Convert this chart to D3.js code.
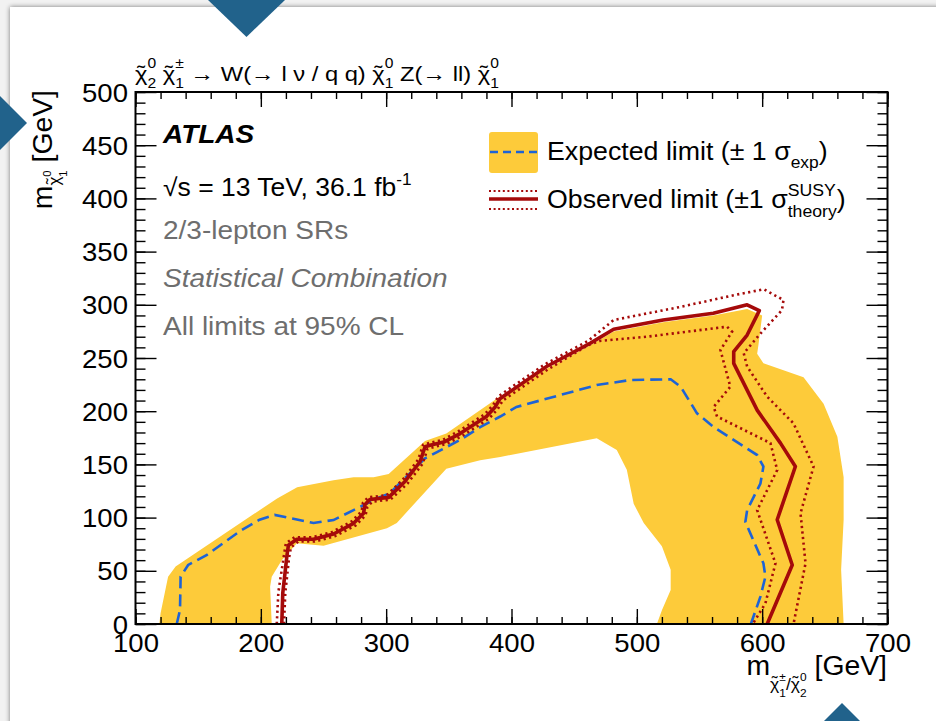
<!DOCTYPE html>
<html><head><meta charset="utf-8">
<script src="https://cdn.jsdelivr.net/npm/d3@7"></script>
<style>
html,body{margin:0;padding:0;background:#f2f2f2;}
svg{display:block;font-family:"Liberation Sans",Arial,Helvetica,sans-serif;}
</style></head><body>
<svg id="c" width="936" height="721"></svg>
<script>
// ---------------- data (GeV) ----------------
const xTicks = [100,200,300,400,500,600,700];
const yTicks = [0,50,100,150,200,250,300,350,400,450,500];

// +-1 sigma expected band: upper (outer) contour then lower (inner) contour
const bandOuter = [[119,0],[120,10],[126,44.5],[132,54],[213,118],[229,128.5],[258,135],[274,138],[290,138],[302,141],[331,172],[348,179],[391,214],[428,240],[463,262],[481.5,275],[521,283.5],[561,290],[588,296],[600,290],[597,262],[596,254],[601,245],[633,232],[649,207],[660,176],[665,138],[665,98],[663,51],[665,0]];
const bandInner = [[516,0],[520,13],[527,32],[527,51],[520,73],[505.5,95],[497.5,113],[492,145],[484,163.5],[468,174.5],[391,157],[375,154],[348,146],[308.5,95],[300.6,90],[250,73.6],[228.7,75.8],[216.7,60],[208.7,44.5],[207.4,35],[208.7,0]];

const expected = [[132.9,0],[135.5,13],[136,44.5],[142,55.5],[157,65],[183,87],[199,98],[211,102.5],[242,95],[258,97.7],[274,107],[292.6,118],[303,123],[331,155.7],[359,173],[375,185],[391,195],[404,204],[468,224.6],[495,229.3],[527,230],[535,223],[548,198],[561,185.4],[596,158.8],[601,148],[598.6,132],[588,107],[586.6,96],[601,57],[602.6,44.5],[598.6,25.7],[591,0]];

const observed = [[216.7,0],[217.5,29],[220.7,63],[222,74],[228.7,79.6],[242,79.6],[258,84.6],[274,94.6],[282,104],[283,112],[287,117],[302,119],[315,134],[327,152.5],[331,166.6],[335,168],[346,171],[359,179],[380,195],[387,204],[391,212],[428,242],[463,264],[481.5,277],[521,285.7],[561,292],[588,300],[597.7,294.5],[588,271.6],[577.3,256],[577.3,245],[596,201],[614.6,170],[626.5,148],[612,98],[624,55.5],[604,0]];

const observedUp = [[212.7,0],[214,30],[218.5,65],[220,76],[227,81.5],[241,81.5],[257,86.5],[272.5,96.5],[280.5,106],[281.5,114],[285.5,119],[300.5,121],[313.5,136],[325.5,154.5],[329.5,168.5],[334,170],[345,173],[357.5,181],[378.5,197],[385.5,206],[389.5,214],[426.5,244],[461,266],[481.5,285.7],[534.7,298],[577.3,309],[601.3,314.6],[617,304.5],[615.8,295],[598.6,273],[585.3,254.4],[588,242],[604,213.6],[625,188.6],[641,148],[630.6,104],[634.6,57],[625,0]];

const observedDown = [[218.5,0],[219.5,29],[222.5,62],[224,72],[230,77.5],[243,77.5],[259,82.5],[275.5,92.5],[283.5,102],[285,110],[289,115],[303.5,117],[317,132],[329,150.5],[333,164.5],[337,166],[347.5,169],[361,177],[382,193],[389,202],[393,210],[430,240],[461,262],[470,266],[508,270],[572,279.4],[576,274.7],[566.7,257.5],[574.6,223],[561.3,204],[564,195],[606.6,170],[612,144.7],[596,107],[610.6,57],[602.6,19.5],[592.5,0]];

// ---------------- layout ----------------
const svg = d3.select("#c");
const L = 135.5, R = 887.5, T = 92, B = 624;
const x = d3.scaleLinear().domain([100,700]).range([L,R]);
const y = d3.scaleLinear().domain([0,500]).range([B,T]);

const YEL = "#fdcb3a", BLUE = "#1d63d6", RED = "#a50a0a";

// card background
const defs = svg.append("defs");
const f = defs.append("filter").attr("id","sh").attr("x","-5%").attr("y","-5%").attr("width","110%").attr("height","110%");
f.append("feGaussianBlur").attr("in","SourceAlpha").attr("stdDeviation",2.5).attr("result","b");
const fm = f.append("feMerge"); fm.append("feMergeNode").attr("in","b"); fm.append("feMergeNode").attr("in","SourceGraphic");
svg.append("rect").attr("x",0).attr("y",0).attr("width",936).attr("height",721).attr("fill","#f2f2f2");
svg.append("rect").attr("x",10).attr("y",7).attr("width",960).attr("height",760).attr("fill","#fff").attr("filter","url(#sh)").attr("opacity",0.5);
svg.append("rect").attr("x",10).attr("y",7).attr("width",960).attr("height",760).attr("fill","#fff");

defs.append("clipPath").attr("id","clip").append("rect").attr("x",L).attr("y",T).attr("width",R-L).attr("height",B-T);
const plot = svg.append("g").attr("clip-path","url(#clip)");

const line = d3.line().x(d=>x(d[0])).y(d=>y(d[1]));
plot.append("path").attr("d", line(bandOuter.concat(bandInner))+"Z").attr("fill",YEL).attr("stroke","none");
plot.append("path").attr("d", line(expected)).attr("fill","none").attr("stroke",BLUE).attr("stroke-width",2.6).attr("stroke-dasharray","12,6");
[observedUp, observedDown].forEach(a=>{
  plot.append("path").attr("d", line(a)).attr("fill","none").attr("stroke",RED).attr("stroke-width",2.6).attr("stroke-dasharray","2.2,3.4");
});
plot.append("path").attr("d", line(observed)).attr("fill","none").attr("stroke",RED).attr("stroke-width",3.6).attr("stroke-linejoin","round");

// ---------------- axes ----------------
const TICKFS = 25.5, TICKSX = 1.08;
const xMinor = d3.range(100,701,20), yMinor = d3.range(0,501,10);
function styleAxis(g){ g.select(".domain").remove(); g.selectAll("line").attr("stroke","#000").attr("stroke-width",1.4); }
svg.append("g").attr("transform",`translate(0,${B})`).call(d3.axisBottom(x).tickValues(xMinor).tickSize(-7).tickFormat("")).call(styleAxis);
svg.append("g").attr("transform",`translate(0,${B})`).call(d3.axisBottom(x).tickValues(xTicks).tickSize(-15).tickFormat(d3.format("d"))).call(styleAxis)
  .selectAll("text").attr("font-size",TICKFS).attr("fill","#000").attr("font-family","Liberation Sans, Arial, sans-serif")
  .attr("dy",null).attr("y",28).attr("transform",`scale(${TICKSX},1)`);
svg.append("g").attr("transform",`translate(0,${T})`).call(d3.axisTop(x).tickValues(xMinor).tickSize(-7).tickFormat("")).call(styleAxis);
svg.append("g").attr("transform",`translate(0,${T})`).call(d3.axisTop(x).tickValues(xTicks).tickSize(-15).tickFormat("")).call(styleAxis);
svg.append("g").attr("transform",`translate(${L},0)`).call(d3.axisLeft(y).tickValues(yMinor).tickSize(-10).tickFormat("")).call(styleAxis);
svg.append("g").attr("transform",`translate(${L},0)`).call(d3.axisLeft(y).tickValues(yTicks).tickSize(-21).tickFormat(d3.format("d"))).call(styleAxis)
  .selectAll("text").attr("font-size",TICKFS).attr("fill","#000").attr("font-family","Liberation Sans, Arial, sans-serif")
  .attr("x",-7).attr("dy",null).attr("y",9).attr("transform",`scale(${TICKSX},1)`);
svg.append("g").attr("transform",`translate(${R},0)`).call(d3.axisRight(y).tickValues(yMinor).tickSize(-10).tickFormat("")).call(styleAxis);
svg.append("g").attr("transform",`translate(${R},0)`).call(d3.axisRight(y).tickValues(yTicks).tickSize(-21).tickFormat("")).call(styleAxis);
svg.append("rect").attr("x",L).attr("y",T).attr("width",R-L).attr("height",B-T).attr("fill","none").attr("stroke","#000").attr("stroke-width",2);

// ---------------- rich text helper ----------------
function grp(parent, px, py, sx, rot){
  return parent.append("g").attr("transform",`translate(${px},${py})${rot?` rotate(${rot})`:""} scale(${sx},1)`);
}
function rich(parent, size, parts, attrs){
  const t = parent.append("text").attr("x",0).attr("y",0).attr("font-size",size);
  if(attrs) Object.entries(attrs).forEach(([k,v])=>t.attr(k,v));
  let cur = 0, prevW = 0, pendingDx = 0;
  parts.forEach(p=>{
    const off = (p.off||0)*size, fs = (p.s||1)*size;
    const ts = t.append("tspan").attr("font-size",fs).attr("dy",off-cur).text(p.t);
    let w0 = ts.node().getComputedTextLength();
    if(p.back){ ts.attr("dx", p.center ? -(prevW+w0)/2 : -prevW); }
    else if(pendingDx>0){ ts.attr("dx",pendingDx); }
    cur = off;
    const w = w0;
    if(p.back){
      pendingDx = p.center ? Math.max(0,(prevW - w)/2) : Math.max(0, prevW - w);
      if(!p.center) prevW = Math.max(prevW, w); // keep stacked width reference
    } else { pendingDx = 0; prevW = w; }
  });
  return t;
}
// chi with a tilde accent centred over it
function chiT(off, s){ return [{t:"\u03C7",off:off,s:s},{t:"\u02DC",off:off-0.06*1,s:s,back:true,center:true}]; }

// title
rich(grp(svg,135,81,1.13), 21, [
  ...chiT(0,1),{t:"2",off:0.32,s:0.66},{t:"0",off:-0.62,s:0.66,back:true},
  {t:" "},...chiT(0,1),{t:"1",off:0.32,s:0.66},{t:"\u00B1",off:-0.62,s:0.66,back:true},
  {t:" \u2192 W(\u2192 l \u03BD / q q) "},...chiT(0,1),{t:"1",off:0.32,s:0.66},{t:"0",off:-0.62,s:0.66,back:true},
  {t:" Z(\u2192 ll) "},...chiT(0,1),{t:"1",off:0.32,s:0.66},{t:"0",off:-0.62,s:0.66,back:true}
]);

// y-axis title
rich(grp(svg,52,90,1.05,-90), 27, [
  {t:"m"},...chiT(0.3,0.6),{t:"1",off:0.55,s:0.4},{t:"0",off:-0.05,s:0.4,back:true},
  {t:" [GeV]",off:0}
], {"text-anchor":"end"});

// x-axis title
rich(grp(svg,887,675,1.05), 27, [
  {t:"m"},...chiT(0.55,0.62),{t:"1",off:0.82,s:0.42},{t:"\u00B1",off:0.22,s:0.42,back:true},
  {t:"/",off:0.55,s:0.62},...chiT(0.55,0.62),{t:"2",off:0.82,s:0.42},{t:"0",off:0.22,s:0.42,back:true},
  {t:" [GeV]",off:0}
], {"text-anchor":"end"});

// ATLAS labels
const TSX = 1.12;
grp(svg,163,143,TSX).append("text").attr("font-size",25).attr("font-weight","bold").attr("font-style","italic").text("ATLAS");
rich(grp(svg,163,196,1.06), 25, [{t:"\u221As = 13 TeV, 36.1 fb"},{t:"-1",off:-0.45,s:0.65}]);
grp(svg,163,239,TSX).append("text").attr("font-size",25).attr("fill","#6e6e6e").text("2/3-lepton SRs");
grp(svg,163,287,TSX).append("text").attr("font-size",25).attr("fill","#6e6e6e").attr("font-style","italic").text("Statistical Combination");
grp(svg,163,335,TSX).append("text").attr("font-size",25).attr("fill","#6e6e6e").text("All limits at 95% CL");

// legend
const lg = svg.append("g");
lg.append("rect").attr("x",489).attr("y",132).attr("width",49).attr("height",41).attr("rx",3).attr("fill",YEL);
lg.append("line").attr("x1",490).attr("x2",538).attr("y1",152).attr("y2",152).attr("stroke",BLUE).attr("stroke-width",2.6).attr("stroke-dasharray","8,5");
rich(grp(lg,547,160,1.07), 25, [{t:"Expected limit (\u00B1 1 \u03C3"},{t:"exp",off:0.3,s:0.65},{t:")",off:0}]);
lg.append("line").attr("x1",489).attr("x2",538).attr("y1",199).attr("y2",199).attr("stroke",RED).attr("stroke-width",3.6);
[191,209].forEach(v=>lg.append("line").attr("x1",489).attr("x2",538).attr("y1",v).attr("y2",v).attr("stroke",RED).attr("stroke-width",2).attr("stroke-dasharray","2,2.6"));
rich(grp(lg,547,208,1.07), 25, [{t:"Observed limit (\u00B11 \u03C3"},{t:"theory",off:0.35,s:0.66},{t:"SUSY",off:-0.5,s:0.66,back:true},{t:")",off:0}]);

// decorative triangles
const tri = [[[208,0],[285,0],[246.5,37]],[[0,96],[27,123],[0,150]],[[824,721],[842,703],[860,721]]];
svg.append("g").selectAll("path").data(tri).join("path").attr("d",d=>"M"+d.join("L")+"Z").attr("fill","#21628b");
</script></body></html>
